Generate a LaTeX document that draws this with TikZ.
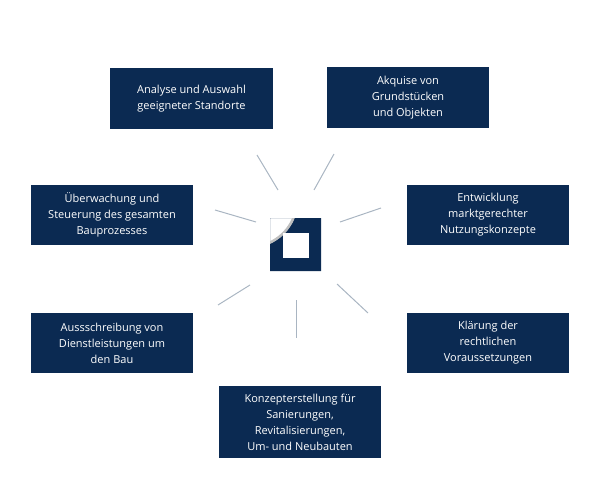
\documentclass[tikz,border=0pt]{standalone}
\usepackage{fontspec}
\setmainfont{Open Sans}
\begin{document}
\begin{tikzpicture}[x=1pt,y=-1pt,
  box/.style={fill=navy,text=white,font=\fontsize{11}{16}\selectfont,align=center,inner sep=0pt},
  ray/.style={draw=rayc,line width=1pt}]
\definecolor{navy}{HTML}{0B2A52}
\definecolor{rayc}{HTML}{A9B5C2}
\useasboundingbox (0,0) rectangle (600,500);
\node[box,minimum width=163,minimum height=61] (a) at (191.5,98.5) {Analyse und Auswahl\\geeigneter Standorte};
\node[box,minimum width=162,minimum height=61] (b) at (408,97.5) {Akquise von\\Grundstücken\\und Objekten};
\node[box,minimum width=162,minimum height=60] (c) at (488,215) {Entwicklung\\marktgerechter\\Nutzungskonzepte};
\node[box,minimum width=162,minimum height=60] (d) at (488,343) {Klärung der\\rechtlichen\\Voraussetzungen};
\node[box,minimum width=162,minimum height=72] (e) at (300,422) {Konzepterstellung für\\Sanierungen,\\Revitalisierungen,\\Um- und Neubauten};
\node[box,minimum width=162,minimum height=60] (f) at (112,343) {Aussschreibung von\\Dienstleistungen um\\den Bau};
\node[box,minimum width=162,minimum height=60] (g) at (112,215) {Überwachung und\\Steuerung des gesamten\\Bauprozesses};
% logo
\begin{scope}
\clip (270,218) rectangle (321,271);
\fill[navy,even odd rule] (270,218) rectangle (321,271) (250,200) circle[radius=48];
\draw[gray!50,line width=2.5pt] (250,200) circle[radius=47];
\end{scope}
\fill[white] (283,233) rectangle (309,258);
\draw[ray] (257,155) -- (278,190);
\draw[ray] (334,154) -- (314,190);
\draw[ray] (340,222) -- (381,208);
\draw[ray] (215,210) -- (256,222);
\draw[ray] (337,284) -- (368,313);
\draw[ray] (296,300) -- (296,338);
\draw[ray] (250,285) -- (218,305);
\end{tikzpicture}
\end{document}
